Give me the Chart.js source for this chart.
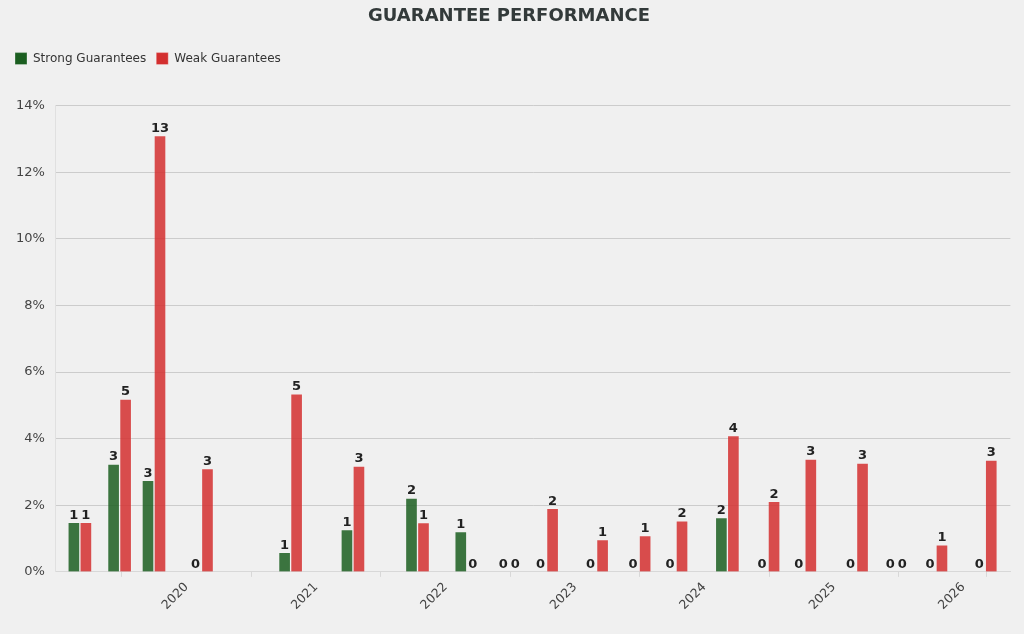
<!DOCTYPE html>
<html>
<head>
<meta charset="utf-8">
<title>Guarantee Performance</title>
<script src="https://cdn.jsdelivr.net/npm/chart.js@4.4.1/dist/chart.umd.min.js"></script>
<style>
  html, body { margin: 0; padding: 0; background: #f0f0f0; }
  #wrap { width: 1024px; height: 634px; }
</style>
</head>
<body>
<div id="wrap"><canvas id="myChart"></canvas></div>
<script>
// reporting dates of each period
const periods = [
  '2019-03-06', '2019-06-26', '2019-10-01', '2020-02-12', '2020-10-21',
  '2021-04-15', '2021-10-14', '2022-03-02', '2022-06-30', '2022-10-13',
  '2023-03-03', '2023-07-01', '2023-10-13', '2024-03-06', '2024-06-29',
  '2024-10-11', '2025-03-06', '2025-06-26', '2025-10-16', '2026-03-04'
];

// share of guarantees (%)
const strongPct = [1.49, 3.24, 2.75, 0, 0.59, 1.27, 2.22, 1.21, 0, 0,
                   0, 0, 0, 1.63, 0, 0, 0, 0, 0, 0];
const weakPct = [1.49, 5.19, 13.1, 3.10, 5.35, 3.18, 1.48, 0, 0, 1.91,
                 0.97, 1.09, 1.53, 4.09, 2.12, 3.39, 3.27, 0, 0.81, 3.36];

// counts shown above the bars
const strongCount = [1, 3, 3, 0, 1, 1, 2, 1, 0, 0, 0, 0, 0, 2, 0, 0, 0, 0, 0, 0];
const weakCount = [1, 5, 13, 3, 5, 3, 1, 0, 0, 2, 1, 1, 2, 4, 2, 3, 3, 0, 1, 3];

const yTicks = [0, 2, 4, 6, 8, 10, 12, 14];

const toYear = (s) => {
  const [y, m, d] = s.split('-').map(Number);
  const start = Date.UTC(y, 0, 1);
  const end = Date.UTC(y + 1, 0, 1);
  return y + (Date.UTC(y, m - 1, d) - start) / (end - start);
};

const xs = periods.map(toYear);
const legendColors = ['#1b5e20', '#d32f2f'];

const countLabels = {
  id: 'countLabels',
  afterDatasetsDraw(chart) {
    const ctx = chart.ctx;
    ctx.save();
    ctx.font = 'bold 13px "DejaVu Sans"';
    ctx.fillStyle = '#222';
    ctx.textAlign = 'center';
    ctx.textBaseline = 'bottom';
    chart.data.datasets.forEach((ds, i) => {
      chart.getDatasetMeta(i).data.forEach((bar, j) => {
        ctx.fillText(String(ds.counts[j]), bar.x, bar.y - 0.5);
      });
    });
    ctx.restore();
  }
};

const legendMargin = {
  id: 'legendMargin',
  beforeInit(chart) {
    const fit = chart.legend.fit;
    chart.legend.fit = function () {
      fit.bind(chart.legend)();
      this.height += 31;
    };
  }
};

const ctx = document.getElementById('myChart').getContext('2d');
new Chart(ctx, {
  type: 'bar',
  data: {
    datasets: [
      {
        label: 'Strong Guarantees',
        data: xs.map((x, i) => ({ x, y: strongPct[i] })),
        counts: strongCount,
        backgroundColor: 'rgba(27, 94, 32, 0.85)',
        borderColor: 'rgba(255, 255, 255, 0.15)',
        borderWidth: 1,
        barThickness: 12,
      },
      {
        label: 'Weak Guarantees',
        data: xs.map((x, i) => ({ x, y: weakPct[i] })),
        counts: weakCount,
        backgroundColor: 'rgba(211, 47, 47, 0.85)',
        borderColor: 'rgba(255, 255, 255, 0.15)',
        borderWidth: 1,
        barThickness: 12,
      },
    ],
  },
  plugins: [countLabels, legendMargin],
  options: {
    responsive: true,
    maintainAspectRatio: false,
    animation: false,
    layout: { padding: { left: 5, right: 11, top: 0, bottom: 18 } },
    plugins: {
      title: {
        display: true,
        text: 'GUARANTEE PERFORMANCE',
        color: '#333a3a',
        font: { family: '"DejaVu Sans"', size: 18, weight: 'bold' },
        padding: { top: 6, bottom: 15 },
      },
      legend: {
        align: 'start',
        labels: {
          boxWidth: 12,
          boxHeight: 12,
          padding: 10,
          color: '#333',
          font: { family: '"DejaVu Sans"', size: 12 },
          generateLabels: (chart) => {
            const items = Chart.defaults.plugins.legend.labels.generateLabels(chart);
            items.forEach((it, i) => {
              it.fillStyle = legendColors[i];
              it.strokeStyle = 'rgba(255,255,255,0.3)';
              it.lineWidth = 1;
            });
            return items;
          },
        },
      },
      tooltip: { enabled: false },
    },
    scales: {
      x: {
        type: 'linear',
        min: 2018.99,
        max: 2026.364,
        offset: false,
        grid: { drawOnChartArea: false, drawTicks: true, tickLength: 5, color: '#d8d8d8' },
        border: { color: '#d8d8d8' },
        ticks: {
          stepSize: 1,
          autoSkip: false,
          maxRotation: 45,
          minRotation: 45,
          color: '#444',
          font: { family: '"DejaVu Sans"', size: 12.5 },
          callback: (v) => (Number.isInteger(v) && v >= 2020 ? String(v) : ''),
        },
      },
      y: {
        min: yTicks[0],
        max: yTicks[yTicks.length - 1],
        afterBuildTicks: (axis) => { axis.ticks = yTicks.map((v) => ({ value: v })); },
        grid: { drawTicks: false, color: '#cccccc' },
        border: { color: '#e0e0e0' },
        ticks: {
          padding: 11,
          color: '#444',
          font: { family: '"DejaVu Sans"', size: 13 },
          callback: (v) => v + '%',
        },
      },
    },
  },
});
</script>
</body>
</html>
